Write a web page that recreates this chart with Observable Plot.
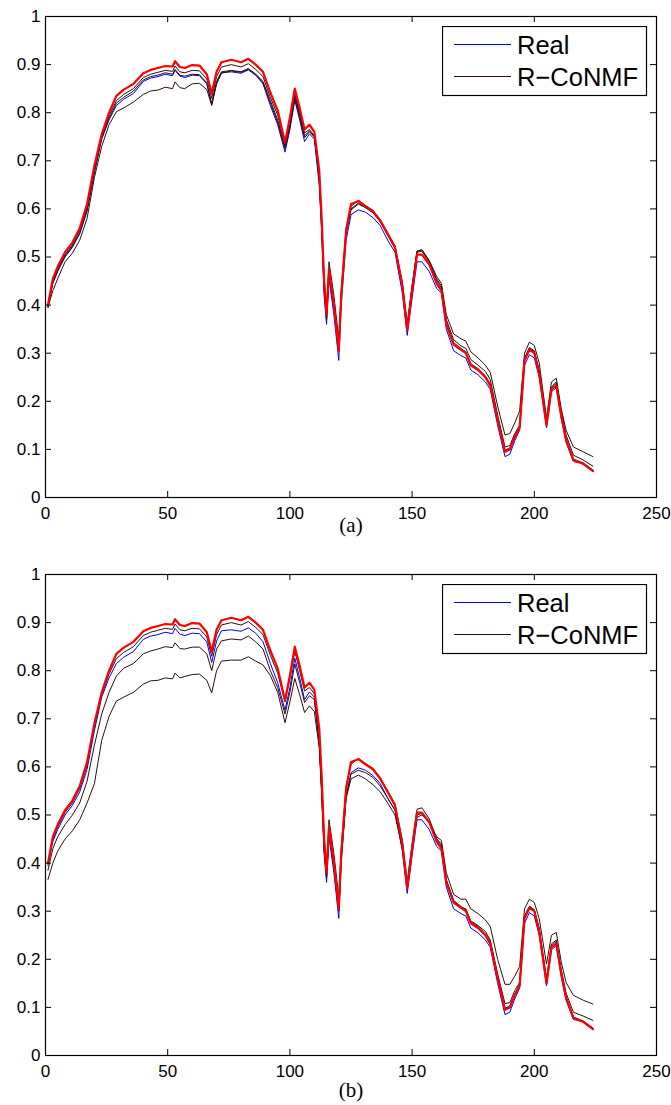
<!DOCTYPE html>
<html><head><meta charset="utf-8">
<script src="https://cdn.jsdelivr.net/npm/d3@7"></script>
<script src="https://cdn.jsdelivr.net/npm/@observablehq/plot@0.6"></script>
<style>
body{margin:0;background:#fff;}
#wrap{position:relative;width:671px;height:1105px;overflow:hidden;background:#fff;}
#wrap > svg, #wrap > div{position:absolute;left:0;}
</style></head><body><div id="wrap"></div>
<script>
// sampled band indices
const bands = [1,3,5,8,11,14,17,20,23,26, 29,32,36,40,43,46,49,52,53,55, 57,60,63,66,68,70,72,76,80,83, 86,89,92,95,98,100,102,104,106,108, 110,112,113,114,115,116,118,120,121,123, 125,128,131,134,137,140,143,146,148,150, 152,154,157,160,162,164,167,170,172,174, 177,180,182,185,188,190,192,194,196,198, 200,202,205,207,209,211,213,216,220,224];

// Real signature (blue)
const real = [0.395,0.445,0.470,0.500,0.520,0.548,0.595,0.675,0.745,0.785,
  0.815,0.828,0.840,0.865,0.872,0.875,0.880,0.877,0.888,0.876,
  0.873,0.878,0.877,0.860,0.817,0.862,0.883,0.885,0.882,0.889,
  0.878,0.860,0.815,0.775,0.718,0.765,0.826,0.785,0.740,0.756,
  0.745,0.650,0.550,0.420,0.360,0.455,0.380,0.285,0.400,0.535,
  0.588,0.598,0.593,0.582,0.565,0.535,0.510,0.425,0.337,0.415,
  0.490,0.490,0.470,0.435,0.425,0.350,0.305,0.295,0.290,0.265,
  0.255,0.240,0.225,0.150,0.085,0.090,0.118,0.140,0.275,0.297,
  0.290,0.250,0.145,0.220,0.228,0.165,0.115,0.075,0.070,0.057];

// thick red curve
const redCurve = [0.400,0.455,0.480,0.510,0.530,0.560,0.610,0.690,0.755,0.800,
  0.835,0.848,0.860,0.882,0.889,0.893,0.897,0.896,0.907,0.895,
  0.893,0.899,0.898,0.880,0.840,0.885,0.905,0.910,0.905,0.912,
  0.900,0.885,0.842,0.805,0.738,0.790,0.850,0.810,0.765,0.775,
  0.760,0.680,0.580,0.450,0.380,0.475,0.400,0.305,0.420,0.555,
  0.610,0.616,0.605,0.595,0.575,0.548,0.520,0.440,0.348,0.430,
  0.505,0.505,0.485,0.445,0.430,0.360,0.318,0.307,0.300,0.275,
  0.265,0.250,0.232,0.160,0.095,0.100,0.125,0.145,0.285,0.307,
  0.300,0.258,0.150,0.225,0.233,0.170,0.120,0.078,0.070,0.055];

// R-CoNMF curves, panel (a)
const a1 = [0.400,0.450,0.475,0.505,0.525,0.555,0.603,0.683,0.750,0.793,
  0.825,0.838,0.850,0.873,0.880,0.884,0.888,0.886,0.897,0.885,
  0.883,0.888,0.887,0.870,0.830,0.875,0.895,0.900,0.895,0.902,
  0.890,0.875,0.832,0.795,0.735,0.785,0.840,0.800,0.758,0.765,
  0.752,0.675,0.575,0.455,0.390,0.490,0.420,0.330,0.430,0.560,
  0.605,0.618,0.607,0.597,0.578,0.550,0.523,0.448,0.362,0.440,
  0.512,0.515,0.492,0.452,0.435,0.365,0.322,0.310,0.303,0.278,
  0.268,0.253,0.236,0.163,0.098,0.103,0.128,0.148,0.288,0.310,
  0.303,0.262,0.153,0.228,0.237,0.173,0.123,0.080,0.072,0.057];
const a2 = [0.398,0.447,0.472,0.502,0.522,0.550,0.598,0.678,0.747,0.788,
  0.820,0.832,0.845,0.868,0.875,0.878,0.883,0.880,0.890,0.878,
  0.876,0.880,0.879,0.862,0.818,0.865,0.885,0.888,0.885,0.892,
  0.880,0.865,0.825,0.785,0.730,0.775,0.835,0.795,0.752,0.762,
  0.750,0.665,0.565,0.435,0.375,0.470,0.400,0.310,0.420,0.550,
  0.600,0.612,0.602,0.592,0.573,0.545,0.518,0.440,0.352,0.435,
  0.510,0.512,0.490,0.455,0.440,0.370,0.328,0.315,0.310,0.287,
  0.275,0.262,0.245,0.172,0.105,0.108,0.133,0.150,0.290,0.312,
  0.305,0.265,0.155,0.230,0.240,0.180,0.130,0.088,0.078,0.065];
const a3 = [0.395,0.430,0.455,0.490,0.508,0.535,0.580,0.665,0.730,0.775,
  0.802,0.810,0.822,0.838,0.845,0.847,0.853,0.850,0.864,0.852,
  0.850,0.860,0.861,0.848,0.815,0.860,0.882,0.887,0.884,0.890,
  0.880,0.862,0.820,0.780,0.725,0.770,0.830,0.790,0.748,0.760,
  0.750,0.660,0.560,0.430,0.370,0.465,0.395,0.310,0.420,0.550,
  0.598,0.610,0.603,0.593,0.575,0.547,0.520,0.445,0.355,0.440,
  0.512,0.515,0.493,0.460,0.445,0.380,0.340,0.330,0.325,0.303,
  0.290,0.275,0.260,0.190,0.130,0.133,0.155,0.180,0.300,0.323,
  0.316,0.280,0.165,0.240,0.248,0.185,0.140,0.105,0.095,0.085];

// R-CoNMF curves, panel (b)
const b1 = a1;
const b2 = [0.385,0.430,0.455,0.480,0.500,0.525,0.570,0.645,0.710,0.755,
  0.789,0.805,0.815,0.835,0.841,0.845,0.850,0.848,0.858,0.846,
  0.845,0.849,0.849,0.835,0.800,0.845,0.862,0.866,0.864,0.872,
  0.860,0.845,0.800,0.765,0.710,0.755,0.814,0.775,0.734,0.748,
  0.740,0.650,0.550,0.430,0.370,0.460,0.390,0.300,0.410,0.540,
  0.585,0.593,0.588,0.578,0.560,0.535,0.510,0.435,0.350,0.430,
  0.500,0.503,0.485,0.450,0.440,0.365,0.322,0.308,0.305,0.280,
  0.270,0.258,0.240,0.170,0.108,0.110,0.135,0.152,0.290,0.310,
  0.303,0.265,0.160,0.232,0.240,0.180,0.130,0.090,0.082,0.073];
const b3 = [0.366,0.400,0.425,0.450,0.467,0.490,0.525,0.565,0.655,0.705,
  0.737,0.745,0.755,0.772,0.779,0.780,0.785,0.783,0.795,0.785,
  0.788,0.792,0.793,0.780,0.754,0.800,0.820,0.822,0.822,0.829,
  0.820,0.812,0.790,0.755,0.692,0.735,0.784,0.750,0.713,0.727,
  0.715,0.640,0.540,0.425,0.370,0.460,0.390,0.305,0.410,0.535,
  0.575,0.583,0.575,0.563,0.548,0.525,0.500,0.430,0.350,0.430,
  0.495,0.500,0.485,0.455,0.447,0.380,0.335,0.325,0.325,0.305,
  0.295,0.282,0.268,0.200,0.148,0.148,0.165,0.185,0.305,0.325,
  0.318,0.285,0.190,0.250,0.256,0.195,0.152,0.125,0.115,0.107];

const xTicks = [0,50,100,150,200,250];
const xTickLabels = ["0","50","100","150","200","250"];
const yTicks = [0,0.1,0.2,0.3,0.4,0.5,0.6,0.7,0.8,0.9,1];
const yTickLabels = ["0","0.1","0.2","0.3","0.4","0.5","0.6","0.7","0.8","0.9","1"];
const legendLabels = ["Real","R\u2212CoNMF"];

const BLUE = "#0000ff", DARK = "#2e0d0d", RED = "#ff0000";
const W = 671, MT = 16, MB = 51, ML = 45, MR = 15, FH = 481;
const FW = W - ML - MR;
const SANS = "'Liberation Sans', Arial, Helvetica, sans-serif";
const SERIF = "'Liberation Serif', 'Times New Roman', serif";

function panel(darkSeries, caption, capDy) {
  const tick = 6;
  return Plot.plot({
    width: W, height: MT + FH + MB,
    marginTop: MT, marginBottom: MB, marginLeft: ML, marginRight: MR,
    x: {domain: [0, 250]},
    y: {domain: [0, 1]},
    style: {fontFamily: SANS, fontSize: "17px", color: "black", background: "transparent", overflow: "visible"},
    marks: [
      Plot.line(bands, {x: bands, y: real, stroke: BLUE, strokeWidth: 1}),
      ...darkSeries.map(s => Plot.line(bands, {x: bands, y: s, stroke: DARK, strokeWidth: 1})),
      Plot.line(bands, {x: bands, y: redCurve, stroke: RED, strokeWidth: 2.2}),
      Plot.frame({stroke: "black", strokeWidth: 1.2}),
      Plot.ruleX(xTicks, {x: d => d, insetTop: FH - tick, stroke: "black"}),
      Plot.ruleX(xTicks, {x: d => d, insetBottom: FH - tick, stroke: "black"}),
      Plot.ruleY(yTicks, {y: d => d, insetRight: FW - tick, stroke: "black"}),
      Plot.ruleY(yTicks, {y: d => d, insetLeft: FW - tick, stroke: "black"}),
      Plot.axisX(xTicks, {tickSize: 0, tickPadding: 9, label: null, fontSize: 17, tickFormat: (d, i) => xTickLabels[i]}),
      Plot.axisY(yTicks, {tickSize: 0, tickPadding: 5, label: null, fontSize: 17, tickFormat: (d, i) => yTickLabels[i]}),
      Plot.text([caption], {frameAnchor: "bottom", dy: capDy, fontFamily: SERIF, fontSize: 21, fill: "black"})
    ]
  });
}

function legend(top) {
  const svg = d3.create("svg").attr("width", 206).attr("height", 71)
    .style("position", "absolute").style("left", "442px").style("top", top + "px");
  svg.append("rect").attr("x", 0.5).attr("y", 0.5).attr("width", 204).attr("height", 69)
    .attr("fill", "white").attr("stroke", "black").attr("stroke-width", 1.2);
  const colors = [BLUE, DARK];
  legendLabels.forEach((lab, i) => {
    const ly = 18.5 + 32 * i;
    svg.append("line").attr("x1", 12).attr("x2", 69).attr("y1", ly).attr("y2", ly)
      .attr("stroke", colors[i]).attr("stroke-width", 1);
    svg.append("text").attr("x", 75).attr("y", ly + 9.5).text(lab)
      .attr("font-family", SANS).attr("font-size", 25.5).attr("fill", "black");
  });
  return svg.node();
}

const wrap = document.getElementById("wrap");
const pa = panel([a1, a2, a3], "(a)", 34);
pa.style.position = "absolute"; pa.style.top = "0px"; pa.style.left = "0px";
wrap.appendChild(pa);
wrap.appendChild(legend(26));
const pb = panel([b1, b2, b3], "(b)", 41);
pb.style.position = "absolute"; pb.style.top = "557.5px"; pb.style.left = "0px";
wrap.appendChild(pb);
wrap.appendChild(legend(583.5));
</script></body></html>
